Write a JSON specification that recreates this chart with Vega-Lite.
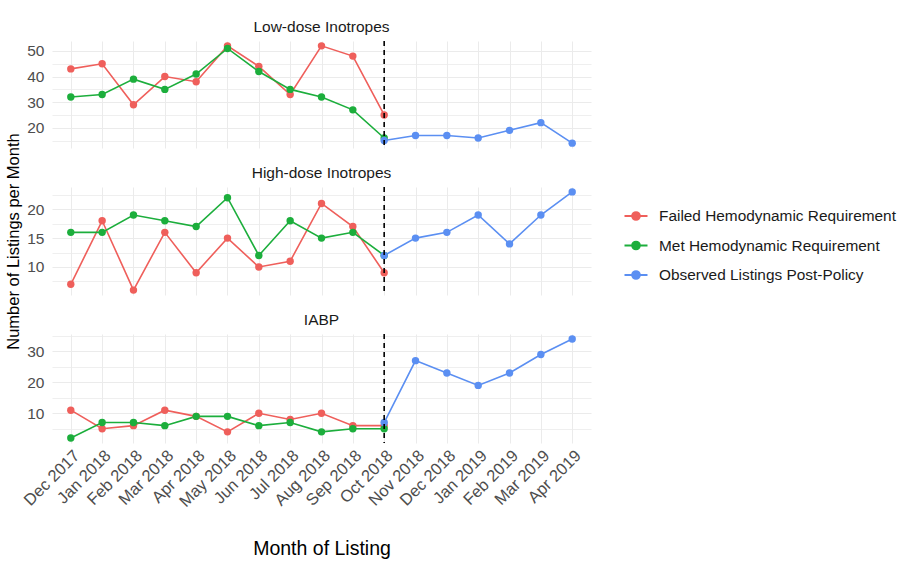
{
  "$schema": "https://vega.github.io/schema/vega-lite/v6.json",
  "padding": {"left": 5, "top": 19, "right": 5, "bottom": 5},
  "background": "white",
  "bounds": "flush",
  "spacing": 39,
  "config": {
    "font": "Liberation Sans",
    "view": {"stroke": null},
    "axis": {"labelFont": "Liberation Sans", "labelFontSize": 15.5, "labelColor": "#4D4D4D", "gridColor": "#EBEBEB", "domain": false, "ticks": false, "titleFont": "Liberation Sans", "titleFontSize": 19.5, "titleFontWeight": "normal", "titleColor": "#000000"},
    "title": {"font": "Liberation Sans", "fontSize": 15.5, "fontWeight": "normal", "color": "#1A1A1A", "offset": 5},
    "legend": {"labelFont": "Liberation Sans", "labelFontSize": 15.4, "labelColor": "#1A1A1A", "labelLimit": 0}
  },
  "data": {"values": [
    {"panel": "Low-dose Inotropes", "group": "Failed Hemodynamic Requirement", "month": "Dec 2017", "n": 43},
    {"panel": "Low-dose Inotropes", "group": "Failed Hemodynamic Requirement", "month": "Jan 2018", "n": 45},
    {"panel": "Low-dose Inotropes", "group": "Failed Hemodynamic Requirement", "month": "Feb 2018", "n": 29},
    {"panel": "Low-dose Inotropes", "group": "Failed Hemodynamic Requirement", "month": "Mar 2018", "n": 40},
    {"panel": "Low-dose Inotropes", "group": "Failed Hemodynamic Requirement", "month": "Apr 2018", "n": 38},
    {"panel": "Low-dose Inotropes", "group": "Failed Hemodynamic Requirement", "month": "May 2018", "n": 52},
    {"panel": "Low-dose Inotropes", "group": "Failed Hemodynamic Requirement", "month": "Jun 2018", "n": 44},
    {"panel": "Low-dose Inotropes", "group": "Failed Hemodynamic Requirement", "month": "Jul 2018", "n": 33},
    {"panel": "Low-dose Inotropes", "group": "Failed Hemodynamic Requirement", "month": "Aug 2018", "n": 52},
    {"panel": "Low-dose Inotropes", "group": "Failed Hemodynamic Requirement", "month": "Sep 2018", "n": 48},
    {"panel": "Low-dose Inotropes", "group": "Failed Hemodynamic Requirement", "month": "Oct 2018", "n": 25},
    {"panel": "Low-dose Inotropes", "group": "Met Hemodynamic Requirement", "month": "Dec 2017", "n": 32},
    {"panel": "Low-dose Inotropes", "group": "Met Hemodynamic Requirement", "month": "Jan 2018", "n": 33},
    {"panel": "Low-dose Inotropes", "group": "Met Hemodynamic Requirement", "month": "Feb 2018", "n": 39},
    {"panel": "Low-dose Inotropes", "group": "Met Hemodynamic Requirement", "month": "Mar 2018", "n": 35},
    {"panel": "Low-dose Inotropes", "group": "Met Hemodynamic Requirement", "month": "Apr 2018", "n": 41},
    {"panel": "Low-dose Inotropes", "group": "Met Hemodynamic Requirement", "month": "May 2018", "n": 51},
    {"panel": "Low-dose Inotropes", "group": "Met Hemodynamic Requirement", "month": "Jun 2018", "n": 42},
    {"panel": "Low-dose Inotropes", "group": "Met Hemodynamic Requirement", "month": "Jul 2018", "n": 35},
    {"panel": "Low-dose Inotropes", "group": "Met Hemodynamic Requirement", "month": "Aug 2018", "n": 32},
    {"panel": "Low-dose Inotropes", "group": "Met Hemodynamic Requirement", "month": "Sep 2018", "n": 27},
    {"panel": "Low-dose Inotropes", "group": "Met Hemodynamic Requirement", "month": "Oct 2018", "n": 16},
    {"panel": "Low-dose Inotropes", "group": "Observed Listings Post-Policy", "month": "Oct 2018", "n": 15},
    {"panel": "Low-dose Inotropes", "group": "Observed Listings Post-Policy", "month": "Nov 2018", "n": 17},
    {"panel": "Low-dose Inotropes", "group": "Observed Listings Post-Policy", "month": "Dec 2018", "n": 17},
    {"panel": "Low-dose Inotropes", "group": "Observed Listings Post-Policy", "month": "Jan 2019", "n": 16},
    {"panel": "Low-dose Inotropes", "group": "Observed Listings Post-Policy", "month": "Feb 2019", "n": 19},
    {"panel": "Low-dose Inotropes", "group": "Observed Listings Post-Policy", "month": "Mar 2019", "n": 22},
    {"panel": "Low-dose Inotropes", "group": "Observed Listings Post-Policy", "month": "Apr 2019", "n": 14},
    {"panel": "High-dose Inotropes", "group": "Failed Hemodynamic Requirement", "month": "Dec 2017", "n": 7},
    {"panel": "High-dose Inotropes", "group": "Failed Hemodynamic Requirement", "month": "Jan 2018", "n": 18},
    {"panel": "High-dose Inotropes", "group": "Failed Hemodynamic Requirement", "month": "Feb 2018", "n": 6},
    {"panel": "High-dose Inotropes", "group": "Failed Hemodynamic Requirement", "month": "Mar 2018", "n": 16},
    {"panel": "High-dose Inotropes", "group": "Failed Hemodynamic Requirement", "month": "Apr 2018", "n": 9},
    {"panel": "High-dose Inotropes", "group": "Failed Hemodynamic Requirement", "month": "May 2018", "n": 15},
    {"panel": "High-dose Inotropes", "group": "Failed Hemodynamic Requirement", "month": "Jun 2018", "n": 10},
    {"panel": "High-dose Inotropes", "group": "Failed Hemodynamic Requirement", "month": "Jul 2018", "n": 11},
    {"panel": "High-dose Inotropes", "group": "Failed Hemodynamic Requirement", "month": "Aug 2018", "n": 21},
    {"panel": "High-dose Inotropes", "group": "Failed Hemodynamic Requirement", "month": "Sep 2018", "n": 17},
    {"panel": "High-dose Inotropes", "group": "Failed Hemodynamic Requirement", "month": "Oct 2018", "n": 9},
    {"panel": "High-dose Inotropes", "group": "Met Hemodynamic Requirement", "month": "Dec 2017", "n": 16},
    {"panel": "High-dose Inotropes", "group": "Met Hemodynamic Requirement", "month": "Jan 2018", "n": 16},
    {"panel": "High-dose Inotropes", "group": "Met Hemodynamic Requirement", "month": "Feb 2018", "n": 19},
    {"panel": "High-dose Inotropes", "group": "Met Hemodynamic Requirement", "month": "Mar 2018", "n": 18},
    {"panel": "High-dose Inotropes", "group": "Met Hemodynamic Requirement", "month": "Apr 2018", "n": 17},
    {"panel": "High-dose Inotropes", "group": "Met Hemodynamic Requirement", "month": "May 2018", "n": 22},
    {"panel": "High-dose Inotropes", "group": "Met Hemodynamic Requirement", "month": "Jun 2018", "n": 12},
    {"panel": "High-dose Inotropes", "group": "Met Hemodynamic Requirement", "month": "Jul 2018", "n": 18},
    {"panel": "High-dose Inotropes", "group": "Met Hemodynamic Requirement", "month": "Aug 2018", "n": 15},
    {"panel": "High-dose Inotropes", "group": "Met Hemodynamic Requirement", "month": "Sep 2018", "n": 16},
    {"panel": "High-dose Inotropes", "group": "Met Hemodynamic Requirement", "month": "Oct 2018", "n": 12},
    {"panel": "High-dose Inotropes", "group": "Observed Listings Post-Policy", "month": "Oct 2018", "n": 12},
    {"panel": "High-dose Inotropes", "group": "Observed Listings Post-Policy", "month": "Nov 2018", "n": 15},
    {"panel": "High-dose Inotropes", "group": "Observed Listings Post-Policy", "month": "Dec 2018", "n": 16},
    {"panel": "High-dose Inotropes", "group": "Observed Listings Post-Policy", "month": "Jan 2019", "n": 19},
    {"panel": "High-dose Inotropes", "group": "Observed Listings Post-Policy", "month": "Feb 2019", "n": 14},
    {"panel": "High-dose Inotropes", "group": "Observed Listings Post-Policy", "month": "Mar 2019", "n": 19},
    {"panel": "High-dose Inotropes", "group": "Observed Listings Post-Policy", "month": "Apr 2019", "n": 23},
    {"panel": "IABP", "group": "Failed Hemodynamic Requirement", "month": "Dec 2017", "n": 11},
    {"panel": "IABP", "group": "Failed Hemodynamic Requirement", "month": "Jan 2018", "n": 5},
    {"panel": "IABP", "group": "Failed Hemodynamic Requirement", "month": "Feb 2018", "n": 6},
    {"panel": "IABP", "group": "Failed Hemodynamic Requirement", "month": "Mar 2018", "n": 11},
    {"panel": "IABP", "group": "Failed Hemodynamic Requirement", "month": "Apr 2018", "n": 9},
    {"panel": "IABP", "group": "Failed Hemodynamic Requirement", "month": "May 2018", "n": 4},
    {"panel": "IABP", "group": "Failed Hemodynamic Requirement", "month": "Jun 2018", "n": 10},
    {"panel": "IABP", "group": "Failed Hemodynamic Requirement", "month": "Jul 2018", "n": 8},
    {"panel": "IABP", "group": "Failed Hemodynamic Requirement", "month": "Aug 2018", "n": 10},
    {"panel": "IABP", "group": "Failed Hemodynamic Requirement", "month": "Sep 2018", "n": 6},
    {"panel": "IABP", "group": "Failed Hemodynamic Requirement", "month": "Oct 2018", "n": 6},
    {"panel": "IABP", "group": "Met Hemodynamic Requirement", "month": "Dec 2017", "n": 2},
    {"panel": "IABP", "group": "Met Hemodynamic Requirement", "month": "Jan 2018", "n": 7},
    {"panel": "IABP", "group": "Met Hemodynamic Requirement", "month": "Feb 2018", "n": 7},
    {"panel": "IABP", "group": "Met Hemodynamic Requirement", "month": "Mar 2018", "n": 6},
    {"panel": "IABP", "group": "Met Hemodynamic Requirement", "month": "Apr 2018", "n": 9},
    {"panel": "IABP", "group": "Met Hemodynamic Requirement", "month": "May 2018", "n": 9},
    {"panel": "IABP", "group": "Met Hemodynamic Requirement", "month": "Jun 2018", "n": 6},
    {"panel": "IABP", "group": "Met Hemodynamic Requirement", "month": "Jul 2018", "n": 7},
    {"panel": "IABP", "group": "Met Hemodynamic Requirement", "month": "Aug 2018", "n": 4},
    {"panel": "IABP", "group": "Met Hemodynamic Requirement", "month": "Sep 2018", "n": 5},
    {"panel": "IABP", "group": "Met Hemodynamic Requirement", "month": "Oct 2018", "n": 5},
    {"panel": "IABP", "group": "Observed Listings Post-Policy", "month": "Oct 2018", "n": 7},
    {"panel": "IABP", "group": "Observed Listings Post-Policy", "month": "Nov 2018", "n": 27},
    {"panel": "IABP", "group": "Observed Listings Post-Policy", "month": "Dec 2018", "n": 23},
    {"panel": "IABP", "group": "Observed Listings Post-Policy", "month": "Jan 2019", "n": 19},
    {"panel": "IABP", "group": "Observed Listings Post-Policy", "month": "Feb 2019", "n": 23},
    {"panel": "IABP", "group": "Observed Listings Post-Policy", "month": "Mar 2019", "n": 29},
    {"panel": "IABP", "group": "Observed Listings Post-Policy", "month": "Apr 2019", "n": 34}
  ]},
  "vconcat": [
    {
      "width": 539, "height": 107,
      "title": {"text": "Low-dose Inotropes"},
      "transform": [{"filter": "datum.panel === 'Low-dose Inotropes'"}],
      "encoding": {
        "x": {"field": "month", "type": "ordinal", "sort": ["Dec 2017","Jan 2018","Feb 2018","Mar 2018","Apr 2018","May 2018","Jun 2018","Jul 2018","Aug 2018","Sep 2018","Oct 2018","Nov 2018","Dec 2018","Jan 2019","Feb 2019","Mar 2019","Apr 2019"], "scale": {"type": "point", "padding": 0.6, "domain": ["Dec 2017","Jan 2018","Feb 2018","Mar 2018","Apr 2018","May 2018","Jun 2018","Jul 2018","Aug 2018","Sep 2018","Oct 2018","Nov 2018","Dec 2018","Jan 2019","Feb 2019","Mar 2019","Apr 2019"]}, "axis": {"labels": false, "title": null, "grid": true}},
        "y": {"field": "n", "type": "quantitative", "scale": {"domain": [12.1, 53.9], "nice": false, "zero": false}, "axis": {"title": "Number of Listings per Month", "titleFontSize": 16.5, "titlePadding": 5, "titleY": 200, "values": [15, 20, 25, 30, 35, 40, 45, 50], "labelExpr": "datum.value % 10 === 0 ? datum.label : ''", "labelPadding": 8, "gridWidth": {"condition": {"test": "datum.value % 10 === 0", "value": 1.1}, "value": 0.8}}},
        "color": {"field": "group", "type": "nominal", "scale": {"domain": ["Failed Hemodynamic Requirement", "Met Hemodynamic Requirement", "Observed Listings Post-Policy"], "range": ["#EF5F5B", "#1CAE3C", "#5B8FF2"]}, "legend": {"title": null, "orient": "none", "legendX": 575, "legendY": 166, "rowPadding": 11.5, "symbolType": "M-1.5,0L1.5,0M-0.5,0A0.5,0.5 0 1,0 0.5,0A0.5,0.5 0 1,0 -0.5,0", "symbolSize": 235, "symbolStrokeWidth": 2, "labelOffset": 14}}
      },
      "layer": [
        {"mark": {"type": "line", "strokeWidth": 1.6}},
        {"mark": {"type": "circle", "size": 55, "opacity": 1}},
        {"data": {"values": [{"m": "Oct 2018"}]}, "mark": {"type": "rule", "color": "#000000", "strokeWidth": 1.6, "strokeDash": [5, 4]}, "encoding": {"x": {"field": "m", "type": "ordinal"}, "y": null, "color": null}}
      ]
    },
    {
      "width": 539, "height": 108,
      "title": {"text": "High-dose Inotropes"},
      "transform": [{"filter": "datum.panel === 'High-dose Inotropes'"}],
      "encoding": {
        "x": {"field": "month", "type": "ordinal", "sort": ["Dec 2017","Jan 2018","Feb 2018","Mar 2018","Apr 2018","May 2018","Jun 2018","Jul 2018","Aug 2018","Sep 2018","Oct 2018","Nov 2018","Dec 2018","Jan 2019","Feb 2019","Mar 2019","Apr 2019"], "scale": {"type": "point", "padding": 0.6, "domain": ["Dec 2017","Jan 2018","Feb 2018","Mar 2018","Apr 2018","May 2018","Jun 2018","Jul 2018","Aug 2018","Sep 2018","Oct 2018","Nov 2018","Dec 2018","Jan 2019","Feb 2019","Mar 2019","Apr 2019"]}, "axis": {"labels": false, "title": null, "grid": true}},
        "y": {"field": "n", "type": "quantitative", "scale": {"domain": [5.15, 23.85], "nice": false, "zero": false}, "axis": {"title": null, "values": [7.5, 10, 12.5, 15, 17.5, 20, 22.5], "labelExpr": "datum.value % 5 === 0 ? datum.label : ''", "labelPadding": 8, "gridWidth": {"condition": {"test": "datum.value % 5 === 0", "value": 1.1}, "value": 0.8}}},
        "color": {"field": "group", "type": "nominal"}
      },
      "layer": [
        {"mark": {"type": "line", "strokeWidth": 1.6}},
        {"mark": {"type": "circle", "size": 55, "opacity": 1}},
        {"data": {"values": [{"m": "Oct 2018"}]}, "mark": {"type": "rule", "color": "#000000", "strokeWidth": 1.6, "strokeDash": [5, 4]}, "encoding": {"x": {"field": "m", "type": "ordinal"}, "y": null, "color": null}}
      ]
    },
    {
      "width": 539, "height": 109,
      "title": {"text": "IABP"},
      "transform": [{"filter": "datum.panel === 'IABP'"}],
      "encoding": {
        "x": {"field": "month", "type": "ordinal", "sort": ["Dec 2017","Jan 2018","Feb 2018","Mar 2018","Apr 2018","May 2018","Jun 2018","Jul 2018","Aug 2018","Sep 2018","Oct 2018","Nov 2018","Dec 2018","Jan 2019","Feb 2019","Mar 2019","Apr 2019"], "scale": {"type": "point", "padding": 0.6, "domain": ["Dec 2017","Jan 2018","Feb 2018","Mar 2018","Apr 2018","May 2018","Jun 2018","Jul 2018","Aug 2018","Sep 2018","Oct 2018","Nov 2018","Dec 2018","Jan 2019","Feb 2019","Mar 2019","Apr 2019"]}, "axis": {"title": "Month of Listing", "titlePadding": 30, "grid": true, "labelAngle": -45, "labelAlign": "right", "labelBaseline": "top", "labelPadding": 4, "labelFontSize": 16.5}},
        "y": {"field": "n", "type": "quantitative", "scale": {"domain": [0.4, 35.6], "nice": false, "zero": false}, "axis": {"title": null, "values": [5, 10, 15, 20, 25, 30, 35], "labelExpr": "datum.value % 10 === 0 ? datum.label : ''", "labelPadding": 8, "gridWidth": {"condition": {"test": "datum.value % 10 === 0", "value": 1.1}, "value": 0.8}}},
        "color": {"field": "group", "type": "nominal"}
      },
      "layer": [
        {"mark": {"type": "line", "strokeWidth": 1.6}},
        {"mark": {"type": "circle", "size": 55, "opacity": 1}},
        {"data": {"values": [{"m": "Oct 2018"}]}, "mark": {"type": "rule", "color": "#000000", "strokeWidth": 1.6, "strokeDash": [5, 4]}, "encoding": {"x": {"field": "m", "type": "ordinal"}, "y": null, "color": null}}
      ]
    }
  ]
}
